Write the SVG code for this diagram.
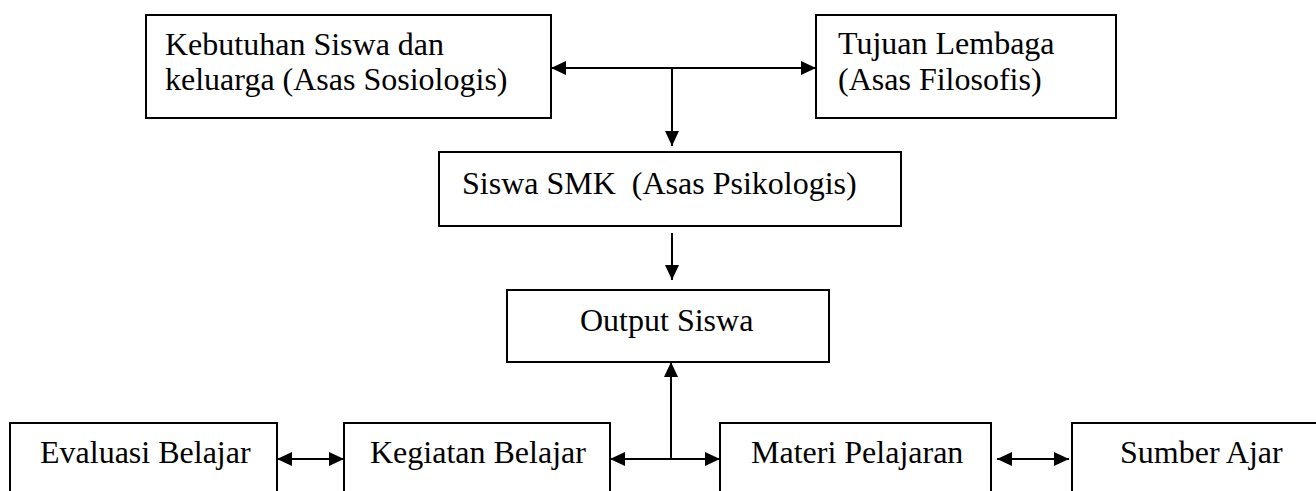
<svg xmlns="http://www.w3.org/2000/svg" width="1316" height="491" viewBox="0 0 1316 491">
<style>
.box{fill:#fff;stroke:#000;stroke-width:2}
.lbl{font-family:"Liberation Serif","Times New Roman",serif;font-size:32px;fill:#000;white-space:pre}
.con{stroke:#000;stroke-width:2;fill:none}
</style>
<defs>
<marker id="ah" markerUnits="userSpaceOnUse" markerWidth="16" markerHeight="14" refX="15" refY="7" orient="auto-start-reverse" viewBox="0 0 16 14">
<path d="M0,0 L15,7 L0,14 z" fill="#000"/>
</marker>
</defs>
<rect x="0" y="0" width="1316" height="491" fill="#fff"/>
<g id="n-kebutuhan">
<rect class="box" x="146" y="15" width="405" height="103"/>
<text class="lbl" x="165" y="55">Kebutuhan Siswa dan</text>
<text class="lbl" x="165" y="90">keluarga (Asas Sosiologis)</text>
</g>
<g id="n-tujuan">
<rect class="box" x="816" y="15" width="300" height="103"/>
<text class="lbl" x="838" y="54">Tujuan Lembaga</text>
<text class="lbl" x="838" y="90">(Asas Filosofis)</text>
</g>
<g id="n-siswa">
<rect class="box" x="439" y="152" width="462" height="74"/>
<text class="lbl" x="462" y="194" xml:space="preserve">Siswa SMK  (Asas Psikologis)</text>
</g>
<g id="n-output">
<rect class="box" x="507" y="290" width="322" height="72"/>
<text class="lbl" x="580" y="331">Output Siswa</text>
</g>
<g id="n-evaluasi">
<rect class="box" x="10" y="423" width="267" height="100"/>
<text class="lbl" x="40" y="463">Evaluasi Belajar</text>
</g>
<g id="n-kegiatan">
<rect class="box" x="344" y="423" width="266" height="100"/>
<text class="lbl" x="370" y="463">Kegiatan Belajar</text>
</g>
<g id="n-materi">
<rect class="box" x="720" y="423" width="271" height="100"/>
<text class="lbl" x="751" y="463">Materi Pelajaran</text>
</g>
<g id="n-sumber">
<rect class="box" x="1072" y="423" width="270" height="100"/>
<text class="lbl" x="1120" y="463">Sumber Ajar</text>
</g>
<g id="connectors">
<line class="con" x1="551" y1="68" x2="816" y2="68" marker-start="url(#ah)" marker-end="url(#ah)"/>
<line class="con" x1="672" y1="68" x2="672" y2="146" marker-end="url(#ah)"/>
<line class="con" x1="672" y1="233" x2="672" y2="280" marker-end="url(#ah)"/>
<line class="con" x1="671" y1="459" x2="671" y2="362" marker-end="url(#ah)"/>
<line class="con" x1="277" y1="459" x2="344" y2="459" marker-start="url(#ah)" marker-end="url(#ah)"/>
<line class="con" x1="610" y1="459" x2="720" y2="459" marker-start="url(#ah)" marker-end="url(#ah)"/>
<line class="con" x1="997" y1="459" x2="1069" y2="459" marker-start="url(#ah)" marker-end="url(#ah)"/>
</g>
</svg>
